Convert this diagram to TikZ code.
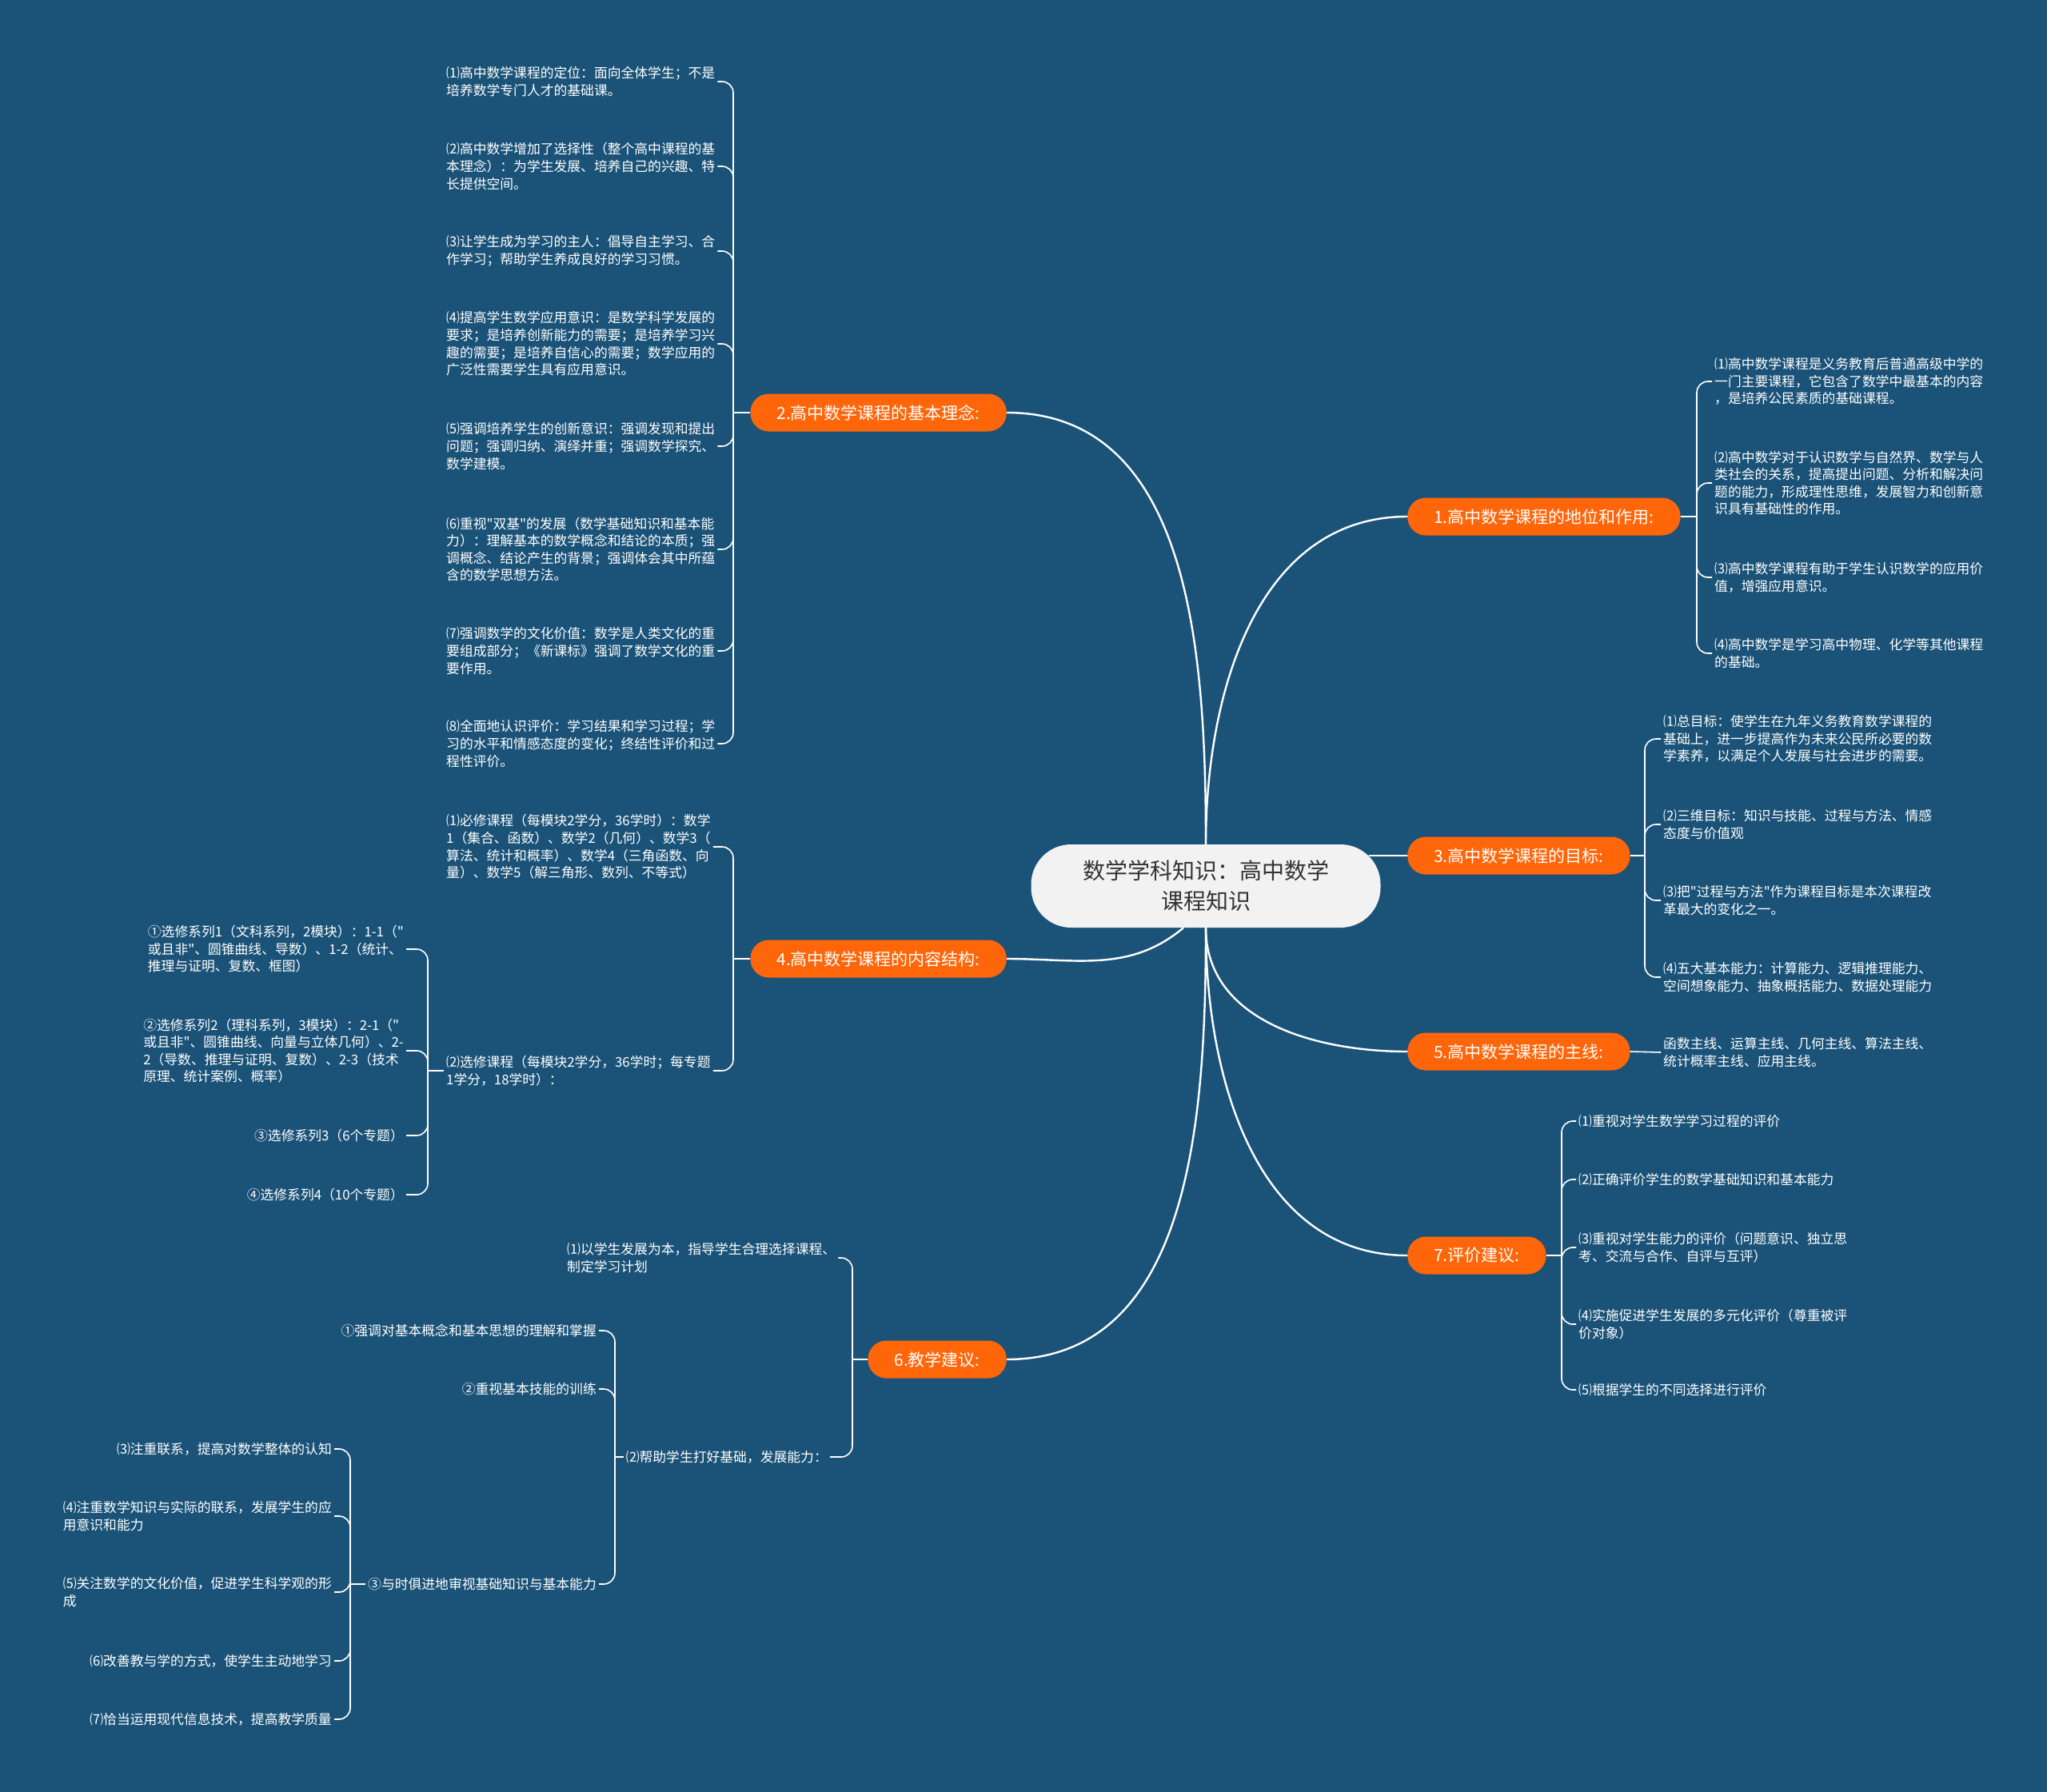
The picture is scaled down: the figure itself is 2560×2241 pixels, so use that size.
\documentclass[tikz,border=0pt]{standalone}
\usepackage{fontspec}
\newfontfamily\cjk{Noto Sans CJK SC}[Ligatures=TeXOff]
\usetikzlibrary{calc}
\definecolor{board}{HTML}{1B5378}
\definecolor{tangerine}{HTML}{FF660A}
\definecolor{paper}{HTML}{F2F2F2}
\definecolor{graphite}{HTML}{333333}

\begin{document}
\begin{tikzpicture}[
  x=1pt, y=-1pt,
  root/.style={fill=paper, rounded corners=50pt, minimum width=437pt, minimum height=104pt, align=center, text=graphite, font=\cjk\fontsize{28}{38}\selectfont},
  branch/.style={fill=tangerine, rounded corners=23pt, minimum height=47pt, inner xsep=33pt, text=white, font=\cjk\fontsize{21}{25}\selectfont},
  leaf/.style={text=white, align=left, inner sep=3pt, font=\cjk\fontsize{16.8}{21.6}\selectfont},
  trunk/.style={draw=white, line width=2.4pt},
  twig/.style={draw=white, line width=1.6pt, rounded corners=14pt},
]
\fill[board] (0,0) rectangle (2560,2241);

% centre and main branches
\node[root] (root) at (1508,1108) {数学学科知识：高中数学\\课程知识};
\node[branch, anchor=west] (b1) at (1760,646) {1.高中数学课程的地位和作用:};
\node[branch, anchor=east] (b2) at (1259,516) {2.高中数学课程的基本理念:};
\node[branch, anchor=west] (b3) at (1760,1070) {3.高中数学课程的目标:};
\node[branch, anchor=east] (b4) at (1259,1199) {4.高中数学课程的内容结构:};
\node[branch, anchor=west] (b5) at (1760,1315) {5.高中数学课程的主线:};
\node[branch, anchor=east] (b6) at (1259,1700) {6.教学建议:};
\node[branch, anchor=west] (b7) at (1760,1570) {7.评价建议:};

\draw[trunk] (root.north) to[out=90,in=180] (b1.west);
\draw[trunk] (b2.east) to[out=0,in=90] (root.north);
\draw[trunk] ($(b3.west -| root.east)+(-15,0)$) -- (b3.west);
\draw[trunk] ($(root.south)+(-28,0)$) to[out=-140,in=0] (b4.east);
\draw[trunk] (root.south) to[out=-90,in=180] (b5.west);
\draw[trunk] (root.south) to[out=-90,in=0] (b6.east);
\draw[trunk] (root.south) to[out=-90,in=180] (b7.west);

% 1
\coordinate (J1) at (2122,646);
\node[leaf, anchor=west] (g1a) at (2141,477) {⑴高中数学课程是义务教育后普通高级中学的\\一门主要课程，它包含了数学中最基本的内容\\，是培养公民素质的基础课程。};
\node[leaf, anchor=west] (g1b) at (2141,604) {⑵高中数学对于认识数学与自然界、数学与人\\类社会的关系，提高提出问题、分析和解决问\\题的能力，形成理性思维，发展智力和创新意\\识具有基础性的作用。};
\node[leaf, anchor=west] (g1c) at (2141,722) {⑶高中数学课程有助于学生认识数学的应用价\\值，增强应用意识。};
\node[leaf, anchor=west] (g1d) at (2141,817) {⑷高中数学是学习高中物理、化学等其他课程\\的基础。};
\draw[twig] (b1.east) -- (J1);
\foreach \c in {g1a,g1b,g1c,g1d} \draw[twig] (J1) |- (\c.west);

% 2
\coordinate (J2) at (917,516);
\node[leaf, anchor=west] (g2a) at (555,102) {⑴高中数学课程的定位：面向全体学生；不是\\培养数学专门人才的基础课。};
\node[leaf, anchor=west] (g2b) at (555,208) {⑵高中数学增加了选择性（整个高中课程的基\\本理念）：为学生发展、培养自己的兴趣、特\\长提供空间。};
\node[leaf, anchor=west] (g2c) at (555,314) {⑶让学生成为学习的主人：倡导自主学习、合\\作学习；帮助学生养成良好的学习习惯。};
\node[leaf, anchor=west] (g2d) at (555,430) {⑷提高学生数学应用意识：是数学科学发展的\\要求；是培养创新能力的需要；是培养学习兴\\趣的需要；是培养自信心的需要；数学应用的\\广泛性需要学生具有应用意识。};
\node[leaf, anchor=west] (g2e) at (555,558) {⑸强调培养学生的创新意识：强调发现和提出\\问题；强调归纳、演绎并重；强调数学探究、\\数学建模。};
\node[leaf, anchor=west] (g2f) at (555,687) {⑹重视"双基"的发展（数学基础知识和基本能\\力）：理解基本的数学概念和结论的本质；强\\调概念、结论产生的背景；强调体会其中所蕴\\含的数学思想方法。};
\node[leaf, anchor=west] (g2g) at (555,814) {⑺强调数学的文化价值：数学是人类文化的重\\要组成部分；《新课标》强调了数学文化的重\\要作用。};
\node[leaf, anchor=west] (g2h) at (555,930) {⑻全面地认识评价：学习结果和学习过程；学\\习的水平和情感态度的变化；终结性评价和过\\程性评价。};
\draw[twig] (b2.west) -- (J2);
\foreach \c in {g2a,g2b,g2c,g2d,g2e,g2f,g2g,g2h} \draw[twig] (J2) |- (\c.east);

% 3
\coordinate (J3) at (2057,1070);
\node[leaf, anchor=west] (g3a) at (2077,924) {⑴总目标：使学生在九年义务教育数学课程的\\基础上，进一步提高作为未来公民所必要的数\\学素养，以满足个人发展与社会进步的需要。};
\node[leaf, anchor=west] (g3b) at (2077,1031) {⑵三维目标：知识与技能、过程与方法、情感\\态度与价值观};
\node[leaf, anchor=west] (g3c) at (2077,1126) {⑶把"过程与方法"作为课程目标是本次课程改\\革最大的变化之一。};
\node[leaf, anchor=west] (g3d) at (2077,1222) {⑷五大基本能力：计算能力、逻辑推理能力、\\空间想象能力、抽象概括能力、数据处理能力};
\draw[twig] (b3.east) -- (J3);
\foreach \c in {g3a,g3b,g3c,g3d} \draw[twig] (J3) |- (\c.west);

% 4
\coordinate (J4) at (917,1199);
\coordinate (J4b) at (535,1339);
\node[leaf, anchor=west] (g4a) at (555,1059) {⑴必修课程（每模块2学分，36学时）：数学\\1（集合、函数）、数学2（几何）、数学3（\\算法、统计和概率）、数学4（三角函数、向\\量）、数学5（解三角形、数列、不等式）};
\node[leaf, anchor=west] (g4b) at (555,1339) {⑵选修课程（每模块2学分，36学时；每专题\\1学分，18学时）：};
\node[leaf, anchor=east] (g4c) at (508,1187) {①选修系列1（文科系列，2模块）：1-1（"\\或且非"、圆锥曲线、导数）、1-2（统计、\\推理与证明、复数、框图）};
\node[leaf, anchor=east] (g4d) at (508,1314) {②选修系列2（理科系列，3模块）：2-1（"\\或且非"、圆锥曲线、向量与立体几何）、2-\\2（导数、推理与证明、复数）、2-3（技术\\原理、统计案例、概率）};
\node[leaf, anchor=east] (g4e) at (508,1420) {③选修系列3（6个专题）};
\node[leaf, anchor=east] (g4f) at (508,1494) {④选修系列4（10个专题）};
\draw[twig] (b4.west) -- (J4);
\foreach \c in {g4a,g4b} \draw[twig] (J4) |- (\c.east);
\draw[twig] (g4b.west) -- (J4b);
\foreach \c in {g4c,g4d,g4e,g4f} \draw[twig] (J4b) |- (\c.east);

% 5
\node[leaf, anchor=west] (g5) at (2077,1316) {函数主线、运算主线、几何主线、算法主线、\\统计概率主线、应用主线。};
\draw[twig] (b5.east) -- (g5.west);

% 6
\coordinate (J6) at (1066,1700);
\coordinate (J6b) at (769,1822);
\coordinate (J6c) at (438,1981);
\node[leaf, anchor=west] (g6a) at (706,1573) {⑴以学生发展为本，指导学生合理选择课程、\\制定学习计划};
\node[leaf, anchor=east] (g6b) at (1038,1822) {⑵帮助学生打好基础，发展能力：};
\node[leaf, anchor=east] (g6c) at (749,1664) {①强调对基本概念和基本思想的理解和掌握};
\node[leaf, anchor=east] (g6d) at (749,1737) {②重视基本技能的训练};
\node[leaf, anchor=east] (g6e) at (749,1981) {③与时俱进地审视基础知识与基本能力};
\node[leaf, anchor=east] (g6f) at (418,1812) {⑶注重联系，提高对数学整体的认知};
\node[leaf, anchor=east] (g6g) at (418,1896) {⑷注重数学知识与实际的联系，发展学生的应\\用意识和能力};
\node[leaf, anchor=east] (g6h) at (418,1991) {⑸关注数学的文化价值，促进学生科学观的形\\成};
\node[leaf, anchor=east] (g6i) at (418,2077) {⑹改善教与学的方式，使学生主动地学习};
\node[leaf, anchor=east] (g6j) at (418,2150) {⑺恰当运用现代信息技术，提高教学质量};
\draw[twig] (b6.west) -- (J6);
\foreach \c in {g6a,g6b} \draw[twig] (J6) |- (\c.east);
\draw[twig] (g6b.west) -- (J6b);
\foreach \c in {g6c,g6d,g6e} \draw[twig] (J6b) |- (\c.east);
\draw[twig] (g6e.west) -- (J6c);
\foreach \c in {g6f,g6g,g6h,g6i,g6j} \draw[twig] (J6c) |- (\c.east);

% 7
\coordinate (J7) at (1953,1570);
\node[leaf, anchor=west] (g7a) at (1971,1402) {⑴重视对学生数学学习过程的评价};
\node[leaf, anchor=west] (g7b) at (1971,1475) {⑵正确评价学生的数学基础知识和基本能力};
\node[leaf, anchor=west] (g7c) at (1971,1560) {⑶重视对学生能力的评价（问题意识、独立思\\考、交流与合作、自评与互评）};
\node[leaf, anchor=west] (g7d) at (1971,1656) {⑷实施促进学生发展的多元化评价（尊重被评\\价对象）};
\node[leaf, anchor=west] (g7e) at (1971,1738) {⑸根据学生的不同选择进行评价};
\draw[twig] (b7.east) -- (J7);
\foreach \c in {g7a,g7b,g7c,g7d,g7e} \draw[twig] (J7) |- (\c.west);
\end{tikzpicture}
\end{document}
